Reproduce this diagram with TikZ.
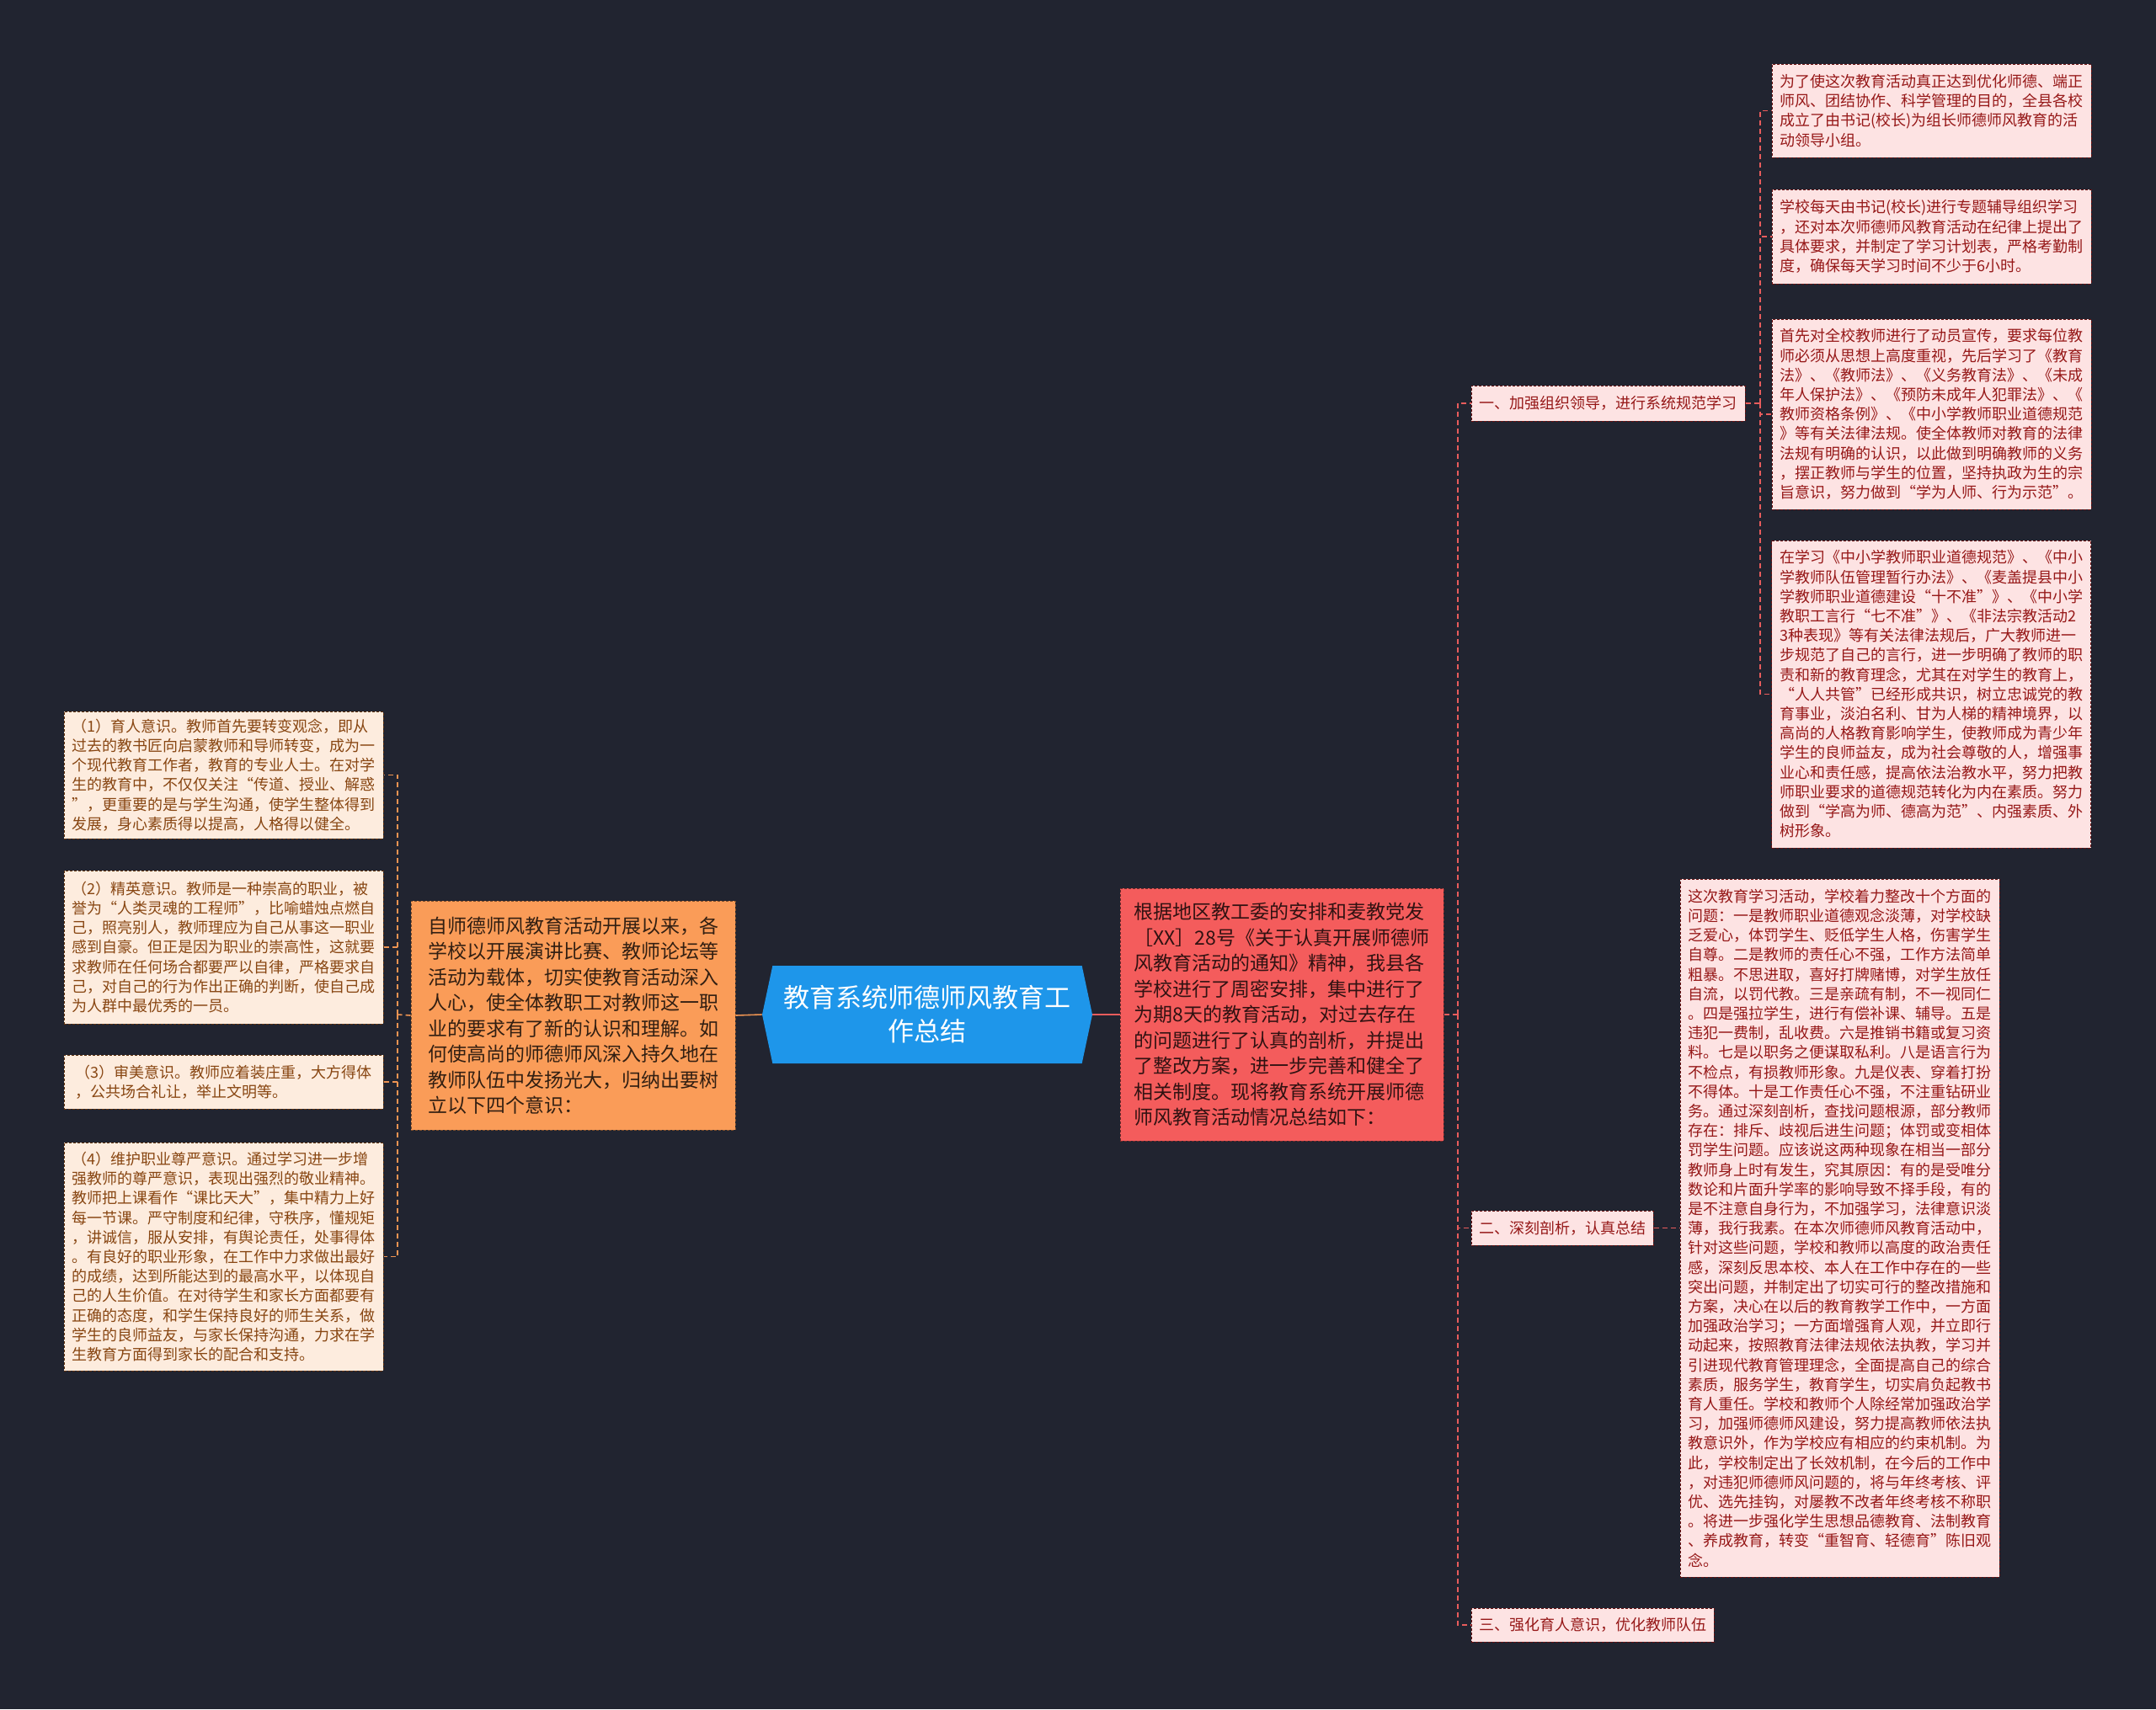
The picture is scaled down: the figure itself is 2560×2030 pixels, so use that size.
\documentclass[tikz,border=0pt]{standalone}
\usepackage{fontspec}
\setmainfont{Noto Sans CJK SC}
\usepackage{tikz}
\usetikzlibrary{shapes.symbols, positioning, calc}

\definecolor{bgcol}{RGB}{33,36,48}
\definecolor{hubblue}{RGB}{30,150,234}
\definecolor{orangefill}{RGB}{250,156,88}
\definecolor{redfill}{RGB}{244,92,92}
\definecolor{pinkfill}{RGB}{253,227,227}
\definecolor{pinktext}{RGB}{150,24,24}
\definecolor{peachfill}{RGB}{253,236,222}
\definecolor{peachtext}{RGB}{136,70,18}
\definecolor{redline}{RGB}{232,92,92}
\definecolor{orangeline}{RGB}{238,148,82}

\begin{document}
\begin{tikzpicture}[x=0.5pt, y=-0.5pt,
	hub/.style={shape=signal, signal to=west and east, signal pointer angle=156, fill=hubblue, text=white, align=center, minimum width=196pt, minimum height=58pt, inner sep=0pt, font=\fontsize{15.5}{20}\selectfont},
	bigbox/.style={draw, dash pattern=on 1.5pt off 1pt, line width=0.5pt, align=left, inner sep=0pt, font=\fontsize{11.5}{15.25}\selectfont},
	rbox/.style={draw=pinktext!70!black, fill=pinkfill, text=pinktext, dash pattern=on 1.5pt off 1pt, line width=0.5pt, align=left, inner sep=0pt, minimum width=189.5pt, font=\fontsize{9}{11.6}\selectfont},
	lbox/.style={rbox, draw=peachtext!70!black, fill=peachfill, text=peachtext},
	rcon/.style={draw=redline, line width=0.8pt, dash pattern=on 3pt off 2pt},
	lcon/.style={draw=orangeline, line width=0.8pt, dash pattern=on 3pt off 2pt}]

	%background
	\fill[bgcol] (0,0) rectangle (2560,2030);

	%nodes
	\draw (1101,1205) node [hub] (hub) {教育系统师德师风教育工\\作总结};
	\draw (680.5,1206) node [bigbox, fill=orangefill, draw=orangefill!50!black, text=black!80!orangefill, minimum width=192.5pt, minimum height=136pt] (orange) {自师德师风教育活动开展以来，各\\学校以开展演讲比赛、教师论坛等\\活动为载体，切实使教育活动深入\\人心，使全体教职工对教师这一职\\业的要求有了新的认识和理解。如\\何使高尚的师德师风深入持久地在\\教师队伍中发扬光大，归纳出要树\\立以下四个意识：};
	\draw (1522,1205) node [bigbox, fill=redfill, draw=redfill!45!black, text=black!80!redfill, minimum width=192pt, minimum height=150pt] (red) {根据地区教工委的安排和麦教党发\\［XX］28号《关于认真开展师德师\\风教育活动的通知》精神，我县各\\学校进行了周密安排，集中进行了\\为期8天的教育活动，对过去存在\\的问题进行了认真的剖析，并提出\\了整改方案，进一步完善和健全了\\相关制度。现将教育系统开展师德\\师风教育活动情况总结如下：};

	\draw (1909.5,479) node [rbox, minimum width=162.5pt, minimum height=21pt, align=center] (b1) {一、加强组织领导，进行系统规范学习};
	\draw (1855,1458.5) node [rbox, minimum width=108pt, minimum height=20.5pt, align=center] (b2) {二、深刻剖析，认真总结};
	\draw (1891,1930) node [rbox, minimum width=144pt, minimum height=20pt, align=center] (b3) {三、强化育人意识，优化教师队伍};

	\draw (2293.5,131.5) node [rbox, minimum height=55.5pt] (r1) {为了使这次教育活动真正达到优化师德、端正\\师风、团结协作、科学管理的目的，全县各校\\成立了由书记(校长)为组长师德师风教育的活\\动领导小组。};
	\draw (2293.5,281) node [rbox, minimum height=56pt] (r2) {学校每天由书记(校长)进行专题辅导组织学习\\，还对本次师德师风教育活动在纪律上提出了\\具体要求，并制定了学习计划表，严格考勤制\\度，确保每天学习时间不少于6小时。};
	\draw (2293.5,492) node [rbox, minimum height=113pt] (r3) {首先对全校教师进行了动员宣传，要求每位教\\师必须从思想上高度重视，先后学习了《教育\\法》、《教师法》、《义务教育法》、《未成\\年人保护法》、《预防未成年人犯罪法》、《\\教师资格条例》、《中小学教师职业道德规范\\》等有关法律法规。使全体教师对教育的法律\\法规有明确的认识，以此做到明确教师的义务\\，摆正教师与学生的位置，坚持执政为生的宗\\旨意识，努力做到“学为人师、行为示范”。};
	\draw (2293,824.5) node [rbox, minimum height=182.5pt] (r4) {在学习《中小学教师职业道德规范》、《中小\\学教师队伍管理暂行办法》、《麦盖提县中小\\学教师职业道德建设“十不准”》、《中小学\\教职工言行“七不准”》、《非法宗教活动2\\3种表现》等有关法律法规后，广大教师进一\\步规范了自己的言行，进一步明确了教师的职\\责和新的教育理念，尤其在对学生的教育上，\\“人人共管”已经形成共识，树立忠诚党的教\\育事业，淡泊名利、甘为人梯的精神境界，以\\高尚的人格教育影响学生，使教师成为青少年\\学生的良师益友，成为社会尊敬的人，增强事\\业心和责任感，提高依法治教水平，努力把教\\师职业要求的道德规范转化为内在素质。努力\\做到“学高为师、德高为范”、内强素质、外\\树形象。};
	\draw (2184.5,1458.5) node [rbox, minimum height=414.5pt] (r5) {这次教育学习活动，学校着力整改十个方面的\\问题：一是教师职业道德观念淡薄，对学校缺\\乏爱心，体罚学生、贬低学生人格，伤害学生\\自尊。二是教师的责任心不强，工作方法简单\\粗暴。不思进取，喜好打牌赌博，对学生放任\\自流，以罚代教。三是亲疏有制，不一视同仁\\。四是强拉学生，进行有偿补课、辅导。五是\\违犯一费制，乱收费。六是推销书籍或复习资\\料。七是以职务之便谋取私利。八是语言行为\\不检点，有损教师形象。九是仪表、穿着打扮\\不得体。十是工作责任心不强，不注重钻研业\\务。通过深刻剖析，查找问题根源，部分教师\\存在：排斥、歧视后进生问题；体罚或变相体\\罚学生问题。应该说这两种现象在相当一部分\\教师身上时有发生，究其原因：有的是受唯分\\数论和片面升学率的影响导致不择手段，有的\\是不注意自身行为，不加强学习，法律意识淡\\薄，我行我素。在本次师德师风教育活动中，\\针对这些问题，学校和教师以高度的政治责任\\感，深刻反思本校、本人在工作中存在的一些\\突出问题，并制定出了切实可行的整改措施和\\方案，决心在以后的教育教学工作中，一方面\\加强政治学习；一方面增强育人观，并立即行\\动起来，按照教育法律法规依法执教，学习并\\引进现代教育管理理念，全面提高自己的综合\\素质，服务学生，教育学生，切实肩负起教书\\育人重任。学校和教师个人除经常加强政治学\\习，加强师德师风建设，努力提高教师依法执\\教意识外，作为学校应有相应的约束机制。为\\此，学校制定出了长效机制，在今后的工作中\\，对违犯师德师风问题的，将与年终考核、评\\优、选先挂钩，对屡教不改者年终考核不称职\\。将进一步强化学生思想品德教育、法制教育\\、养成教育，转变“重智育、轻德育”陈旧观\\念。};

	\draw (265.5,920.5) node [lbox, minimum height=75.5pt] (l1) {（1）育人意识。教师首先要转变观念，即从\\过去的教书匠向启蒙教师和导师转变，成为一\\个现代教育工作者，教育的专业人士。在对学\\生的教育中，不仅仅关注“传道、授业、解惑\\”，更重要的是与学生沟通，使学生整体得到\\发展，身心素质得以提高，人格得以健全。};
	\draw (265.5,1125) node [lbox, minimum height=91pt] (l2) {（2）精英意识。教师是一种崇高的职业，被\\誉为“人类灵魂的工程师”，比喻蜡烛点燃自\\己，照亮别人，教师理应为自己从事这一职业\\感到自豪。但正是因为职业的崇高性，这就要\\求教师在任何场合都要严以自律，严格要求自\\己，对自己的行为作出正确的判断，使自己成\\为人群中最优秀的一员。};
	\draw (265.5,1285) node [lbox, minimum height=32pt] (l3) {（3）审美意识。教师应着装庄重，大方得体\\，公共场合礼让，举止文明等。};
	\draw (265.5,1492.5) node [lbox, minimum height=135.5pt] (l4) {（4）维护职业尊严意识。通过学习进一步增\\强教师的尊严意识，表现出强烈的敬业精神。\\教师把上课看作“课比天大”，集中精力上好\\每一节课。严守制度和纪律，守秩序，懂规矩\\，讲诚信，服从安排，有舆论责任，处事得体\\。有良好的职业形象，在工作中力求做出最好\\的成绩，达到所能达到的最高水平，以体现自\\己的人生价值。在对待学生和家长方面都要有\\正确的态度，和学生保持良好的师生关系，做\\学生的良师益友，与家长保持沟通，力求在学\\生教育方面得到家长的配合和支持。};

	%lines
	\coordinate (ltrunk) at (472,1205);
	\coordinate (rtrunk) at (1731,1205);
	\coordinate (subtrunk) at (2090,479);
	\draw[orangeline, line width=0.8pt] (hub.west) -- (orange.east);
	\draw[redline, line width=0.8pt] (hub.east) -- (red.west);
	\draw[lcon] (orange.west) -- (ltrunk);
	\foreach \l in {l1,l2,l3,l4}
		\draw[lcon] (ltrunk) |- (\l.east);
	\draw[rcon] (red.east) -- (rtrunk);
	\foreach \b in {b1,b2,b3}
		\draw[rcon] (rtrunk) |- (\b.west);
	\draw[rcon] (b1.east) -- (subtrunk);
	\foreach \r in {r1,r2,r3,r4}
		\draw[rcon] (subtrunk) |- (\r.west);
	\draw[rcon] (b2.east) -- (r5.west);
\end{tikzpicture}
\end{document}
